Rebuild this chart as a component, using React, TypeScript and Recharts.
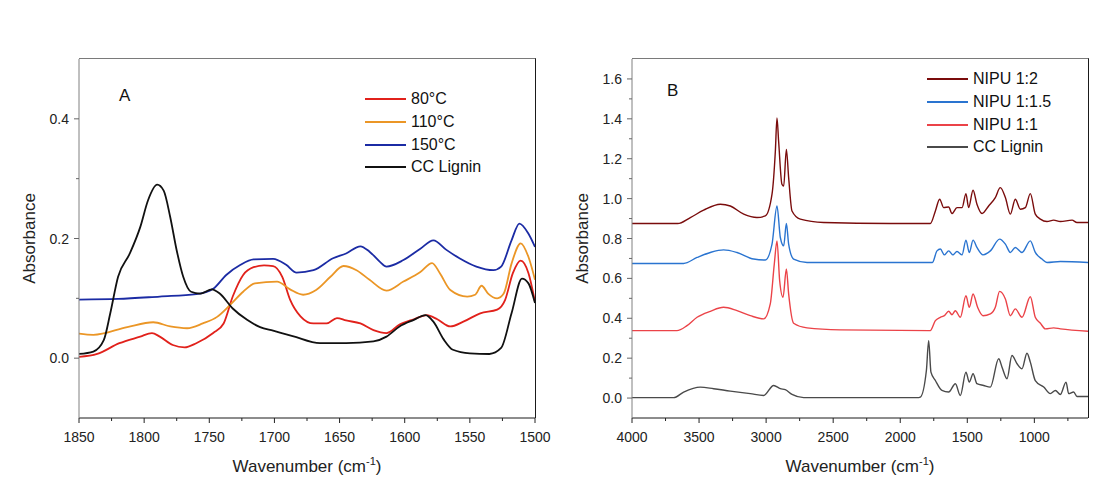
import React from 'react';
import { LineChart, Line, XAxis, YAxis } from 'recharts';

const FONT = '"Liberation Sans", Arial, sans-serif';

// ---- Panel A: 1850-1500 cm-1 ----
const wnA80 = [1850, 1836, 1819, 1803, 1794, 1788, 1778, 1769, 1760, 1747, 1739, 1732, 1724, 1716, 1708, 1701, 1694, 1688, 1680, 1670, 1660, 1652, 1645, 1634, 1624, 1614, 1604, 1593, 1583, 1575, 1565, 1555, 1542, 1529, 1523, 1517, 1511, 1505, 1500];
const absA80 = [0.002, 0.007, 0.025, 0.036, 0.042, 0.036, 0.022, 0.018, 0.025, 0.042, 0.058, 0.103, 0.139, 0.152, 0.155, 0.154, 0.136, 0.098, 0.07, 0.058, 0.058, 0.067, 0.063, 0.058, 0.047, 0.042, 0.056, 0.065, 0.072, 0.065, 0.053, 0.061, 0.075, 0.081, 0.097, 0.142, 0.163, 0.142, 0.094];

const wnA110 = [1850, 1839, 1813, 1793, 1780, 1767, 1755, 1744, 1734, 1724, 1715, 1698, 1688, 1678, 1668, 1657, 1647, 1637, 1627, 1614, 1601, 1588, 1579, 1573, 1565, 1552, 1546, 1541, 1536, 1529, 1524, 1518, 1511, 1505, 1500];
const absA110 = [0.041, 0.039, 0.052, 0.06, 0.053, 0.05, 0.058, 0.069, 0.089, 0.111, 0.125, 0.128, 0.115, 0.106, 0.114, 0.136, 0.154, 0.147, 0.131, 0.113, 0.128, 0.144, 0.159, 0.142, 0.114, 0.103, 0.106, 0.121, 0.108, 0.1, 0.108, 0.158, 0.192, 0.169, 0.131];

const wnA150 = [1850, 1820, 1788, 1760, 1747, 1737, 1726, 1716, 1701, 1691, 1683, 1670, 1655, 1645, 1634, 1627, 1619, 1614, 1601, 1588, 1578, 1568, 1558, 1545, 1532, 1526, 1518, 1512, 1505, 1500];
const absA150 = [0.098, 0.099, 0.103, 0.107, 0.116, 0.139, 0.156, 0.165, 0.166, 0.156, 0.143, 0.147, 0.167, 0.175, 0.187, 0.178, 0.161, 0.153, 0.164, 0.183, 0.197, 0.181, 0.167, 0.153, 0.147, 0.153, 0.197, 0.225, 0.208, 0.186];

const wnALig = [1850, 1839, 1831, 1826, 1820, 1811, 1803, 1797, 1790, 1785, 1780, 1775, 1770, 1764, 1757, 1748, 1742, 1732, 1721, 1711, 1701, 1686, 1665, 1645, 1624, 1614, 1604, 1593, 1584, 1578, 1570, 1563, 1550, 1535, 1526, 1518, 1510, 1505, 1500];
const absALig = [0.007, 0.011, 0.03, 0.075, 0.136, 0.175, 0.219, 0.264, 0.29, 0.28, 0.236, 0.18, 0.136, 0.111, 0.108, 0.115, 0.108, 0.083, 0.064, 0.052, 0.046, 0.037, 0.025, 0.025, 0.028, 0.036, 0.053, 0.064, 0.072, 0.061, 0.031, 0.014, 0.008, 0.007, 0.017, 0.075, 0.133, 0.125, 0.092];

const xTicksA = [1850, 1825, 1800, 1775, 1750, 1725, 1700, 1675, 1650, 1625, 1600, 1575, 1550, 1525, 1500];
const yTicksA = [0, 0.1, 0.2, 0.3, 0.4];

// ---- Panel B: 4000-600 cm-1 ----
const wnB12 = [4000, 3660, 3565, 3466, 3341, 3267, 3167, 3068, 3006, 2956, 2931, 2919, 2907, 2882, 2869, 2849, 2832, 2807, 2745, 2571, 2074, 1776, 1738, 1706, 1676, 1639, 1614, 1577, 1539, 1510, 1490, 1457, 1428, 1390, 1341, 1291, 1254, 1216, 1179, 1142, 1104, 1067, 1030, 993, 955, 906, 856, 806, 719, 682, 600];
const absB12 = [0.875, 0.875, 0.905, 0.942, 0.972, 0.963, 0.922, 0.905, 0.913, 1.022, 1.24, 1.405, 1.29, 1.072, 1.063, 1.247, 1.105, 0.938, 0.897, 0.88, 0.875, 0.875, 0.938, 0.997, 0.955, 0.958, 0.925, 0.955, 0.955, 1.025, 0.955, 1.042, 0.972, 0.925, 0.963, 1.005, 1.055, 1.005, 0.922, 0.997, 0.947, 0.955, 1.025, 0.922, 0.897, 0.885, 0.892, 0.885, 0.892, 0.88, 0.88];

const wnB115 = [4000, 3615, 3515, 3416, 3317, 3217, 3093, 3006, 2956, 2919, 2894, 2869, 2849, 2832, 2795, 2695, 1760, 1726, 1701, 1671, 1639, 1607, 1577, 1539, 1510, 1485, 1457, 1428, 1383, 1328, 1259, 1216, 1179, 1142, 1092, 1030, 993, 943, 906, 806, 600];
const absB115 = [0.675, 0.675, 0.705, 0.73, 0.743, 0.73, 0.697, 0.692, 0.772, 0.963, 0.805, 0.763, 0.875, 0.772, 0.697, 0.68, 0.68, 0.738, 0.747, 0.718, 0.738, 0.718, 0.735, 0.718, 0.792, 0.73, 0.792, 0.755, 0.718, 0.738, 0.797, 0.772, 0.73, 0.755, 0.73, 0.788, 0.73, 0.697, 0.68, 0.685, 0.68];

const wnB11 = [4000, 3665, 3590, 3515, 3416, 3317, 3217, 3118, 3018, 2969, 2939, 2919, 2899, 2874, 2849, 2832, 2795, 2695, 2447, 1776, 1738, 1701, 1671, 1639, 1614, 1589, 1552, 1510, 1485, 1457, 1423, 1383, 1328, 1291, 1259, 1216, 1179, 1142, 1092, 1030, 993, 955, 918, 856, 806, 600];
const absB11 = [0.338, 0.338, 0.363, 0.405, 0.435, 0.455, 0.438, 0.413, 0.397, 0.472, 0.672, 0.788, 0.588, 0.505, 0.647, 0.522, 0.375, 0.352, 0.342, 0.338, 0.388, 0.405, 0.413, 0.435, 0.418, 0.438, 0.405, 0.513, 0.455, 0.522, 0.455, 0.413, 0.422, 0.455, 0.535, 0.497, 0.413, 0.447, 0.405, 0.508, 0.405, 0.375, 0.347, 0.352, 0.347, 0.335];

const wnBLig = [4000, 3690, 3615, 3491, 3391, 3267, 3118, 3018, 2944, 2894, 2857, 2807, 2720, 1875, 1850, 1805, 1788, 1771, 1738, 1689, 1639, 1589, 1552, 1510, 1485, 1457, 1428, 1378, 1328, 1266, 1241, 1204, 1167, 1129, 1092, 1055, 1030, 993, 930, 881, 843, 806, 764, 744, 707, 682, 600];
const absBLig = [0.002, 0.002, 0.03, 0.055, 0.047, 0.035, 0.022, 0.013, 0.063, 0.047, 0.042, 0.018, 0.002, 0.002, 0.005, 0.138, 0.288, 0.13, 0.088, 0.038, 0.03, 0.072, 0.013, 0.13, 0.08, 0.122, 0.072, 0.063, 0.055, 0.197, 0.155, 0.097, 0.213, 0.172, 0.147, 0.225, 0.18, 0.088, 0.055, 0.022, 0.038, 0.018, 0.08, 0.022, 0.03, 0.008, 0.008];

const xTicksB = [4000, 3750, 3500, 3250, 3000, 2750, 2500, 2250, 2000, 1750, 1500, 1250, 1000, 750];
const yTicksB = [0, 0.1, 0.2, 0.3, 0.4, 0.5, 0.6, 0.7, 0.8, 0.9, 1.0, 1.1, 1.2, 1.3, 1.4, 1.5, 1.6];

const toPoints = (wn: number[], abs: number[]) => wn.map((w, i) => ({ wn: w, abs: abs[i] }));

const seriesA = [
  { name: '80°C', color: '#e1211b', data: toPoints(wnA80, absA80) },
  { name: '110°C', color: '#eb9626', data: toPoints(wnA110, absA110) },
  { name: '150°C', color: '#1b2ba4', data: toPoints(wnA150, absA150) },
  { name: 'CC Lignin', color: '#111111', data: toPoints(wnALig, absALig) },
];

const seriesB = [
  { name: 'NIPU 1:2', color: '#7a0c0c', data: toPoints(wnB12, absB12) },
  { name: 'NIPU 1:1.5', color: '#2a74d0', data: toPoints(wnB115, absB115) },
  { name: 'NIPU 1:1', color: '#eb4348', data: toPoints(wnB11, absB11) },
  { name: 'CC Lignin', color: '#4a4a4a', data: toPoints(wnBLig, absBLig) },
];

const makeXTick = (majorStep: number) => (props: any) => {
  const { x, y, payload } = props;
  const v = payload.value;
  const major = v % majorStep === 0;
  return (
    <g>
      <line x1={x} y1={y} x2={x} y2={y + (major ? 5 : 3)} stroke="#222" />
      {major && (
        <text x={x} y={y + 24} textAnchor="middle" fontSize={14} fill="#222" fontFamily={FONT}>
          {v}
        </text>
      )}
    </g>
  );
};

const YTick = (props: any) => {
  const { x, y, payload } = props;
  const v = payload.value;
  const major = Math.round(v * 10) % 2 === 0;
  return (
    <g>
      <line x1={x} y1={y} x2={x - (major ? 5 : 3)} y2={y} stroke="#666" />
      {major && (
        <text x={x - 10} y={y + 5} textAnchor="end" fontSize={14} fill="#222" fontFamily={FONT}>
          {v.toFixed(1)}
        </text>
      )}
    </g>
  );
};

const XTitle = (props: any) => {
  const { viewBox } = props;
  return (
    <text x={viewBox.x + viewBox.width / 2} y={viewBox.y + 54} textAnchor="middle" fontSize={17} fill="#222" fontFamily={FONT}>
      Wavenumber (cm
      <tspan dy={-7} fontSize={11}>-1</tspan>
      <tspan dy={7}>)</tspan>
    </text>
  );
};

const YTitle = (props: any) => {
  const { viewBox } = props;
  const cx = viewBox.x + viewBox.width - 50 + 6;
  const cy = viewBox.y + viewBox.height / 2;
  return (
    <text x={cx} y={cy} transform={`rotate(-90, ${cx}, ${cy})`} textAnchor="middle" fontSize={17} fill="#222" fontFamily={FONT}>
      Absorbance
    </text>
  );
};

type Series = { name: string; color: string; data: { wn: number; abs: number }[] };

interface PanelProps {
  width: number;
  marginLeft: number;
  marginRight: number;
  xDomain: [number, number];
  yDomain: [number, number];
  xTicks: number[];
  yTicks: number[];
  majorStep: number;
  series: Series[];
  strokeWidth: number;
}

const TOP = 59;
const PLOT_H = 359;

const Panel: React.FC<PanelProps> = (p) => (
  <div style={{ position: 'relative', width: p.width, height: 480 }}>
    <LineChart width={p.width} height={480} margin={{ top: TOP, right: p.marginRight, bottom: 12, left: p.marginLeft }}>
      <XAxis
        dataKey="wn"
        type="number"
        domain={p.xDomain}
        reversed
        allowDataOverflow
        ticks={p.xTicks}
        interval={0}
        tickSize={0}
        tickMargin={0}
        tickLine={false}
        tick={makeXTick(p.majorStep)}
        axisLine={{ stroke: '#1a1a1a' }}
        height={50}
        label={{ content: XTitle }}
      />
      <YAxis
        type="number"
        domain={p.yDomain}
        allowDataOverflow
        ticks={p.yTicks}
        interval={0}
        tickSize={0}
        tickMargin={0}
        tickLine={false}
        tick={YTick}
        axisLine={{ stroke: '#808080' }}
        width={50}
        label={{ content: YTitle }}
      />
      {p.series.map((s) => (
        <Line
          key={s.name}
          data={s.data}
          dataKey="abs"
          name={s.name}
          type="monotone"
          stroke={s.color}
          strokeWidth={p.strokeWidth}
          dot={false}
          activeDot={false}
          isAnimationActive={false}
        />
      ))}
    </LineChart>
    {/* top and right edges of the plot frame */}
    <div
      style={{
        position: 'absolute',
        left: p.marginLeft + 50,
        top: TOP - 1,
        width: p.width - p.marginLeft - 50 - p.marginRight,
        height: PLOT_H,
        borderTop: '1px solid #7a7a7a',
        borderRight: '1px solid #1a1a1a',
        pointerEvents: 'none',
      }}
    />
  </div>
);

const LegendBox: React.FC<{ left: number; top: number; series: Series[] }> = ({ left, top, series }) => (
  <div style={{ position: 'absolute', left, top }}>
    {series.map((s, i) => (
      <div key={s.name} style={{ position: 'absolute', left: 0, top: i * 22.7 - 11, height: 22, display: 'flex', alignItems: 'center', whiteSpace: 'nowrap' }}>
        <div style={{ width: 41, height: 0, borderTop: `2px solid ${s.color}` }} />
        <span style={{ marginLeft: 5, fontSize: 16, color: '#111', fontFamily: FONT }}>{s.name}</span>
      </div>
    ))}
  </div>
);

export default function App() {
  return (
    <div style={{ position: 'absolute', left: 0, top: 0, width: 1106, height: 480, background: '#fff', fontFamily: FONT }}>
      <div style={{ position: 'absolute', left: 0, top: 0 }}>
        <Panel width={560} marginLeft={29} marginRight={25} xDomain={[1500, 1850]} yDomain={[-0.1, 0.5]}
          xTicks={xTicksA} yTicks={yTicksA} majorStep={50} series={seriesA} strokeWidth={1.8} />
      </div>
      <div style={{ position: 'absolute', left: 560, top: 0 }}>
        <Panel width={546} marginLeft={22} marginRight={18} xDomain={[600, 4000]} yDomain={[-0.1, 1.7]}
          xTicks={xTicksB} yTicks={yTicksB} majorStep={500} series={seriesB} strokeWidth={1.4} />
      </div>
      <div style={{ position: 'absolute', left: 119, top: 86, fontSize: 17, color: '#111' }}>A</div>
      <div style={{ position: 'absolute', left: 667, top: 81, fontSize: 17, color: '#111' }}>B</div>
      <LegendBox left={365} top={99.3} series={seriesA} />
      <LegendBox left={927} top={79.3} series={seriesB} />
    </div>
  );
}
